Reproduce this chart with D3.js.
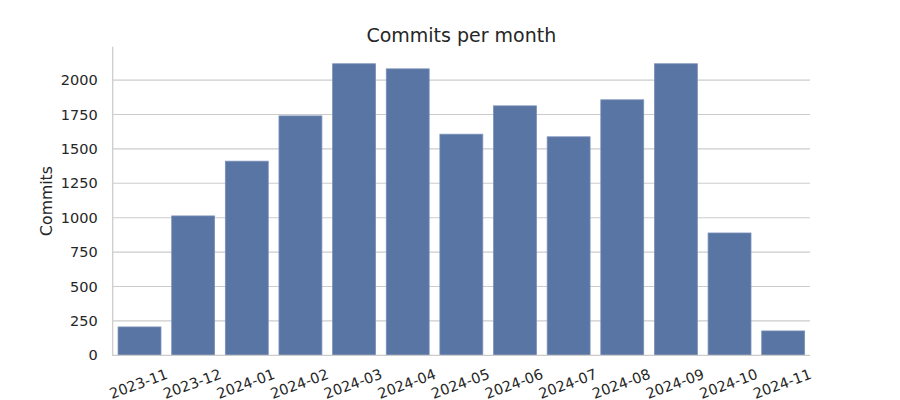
<!DOCTYPE html>
<html>
<head>
<meta charset="utf-8">
<script src="https://cdn.jsdelivr.net/npm/d3@7"></script>
<style>
  html, body { margin: 0; padding: 0; background: #ffffff; }
  svg { display: block; font-family: "DejaVu Sans", sans-serif; }
</style>
</head>
<body>
<svg id="chart" width="900" height="400"></svg>
<script>
const months = ["2023-11","2023-12","2024-01","2024-02","2024-03","2024-04","2024-05","2024-06","2024-07","2024-08","2024-09","2024-10","2024-11"];
const commits = [206, 1013, 1411, 1740, 2119, 2082, 1607, 1813, 1588, 1857, 2119, 889, 177];
const yTicks = [0, 250, 500, 750, 1000, 1250, 1500, 1750, 2000];
const chartTitle = "Commits per month";
const yLabel = "Commits";

(function () {
const svg = d3.select("#chart");
const mLeft = 112.7, mRight = 810, mTop = 46.7, mBottom = 355.3;
const textColor = "#262626";

const x = d3.scaleBand().domain(months).range([mLeft, mRight]).paddingInner(0.2).paddingOuter(0.1);
const y = d3.scaleLinear().domain([0, 2243]).range([mBottom, mTop]);

// grid lines
svg.append("g")
  .selectAll("line")
  .data(yTicks.filter(d => d > 0))
  .join("line")
  .attr("x1", mLeft).attr("x2", mRight)
  .attr("y1", d => y(d)).attr("y2", d => y(d))
  .attr("stroke", "#cccccc").attr("stroke-width", 1.1);

// bars
svg.append("g")
  .selectAll("rect")
  .data(months.map((m, i) => ({m, v: commits[i]})))
  .join("rect")
  .attr("x", d => x(d.m))
  .attr("width", x.bandwidth())
  .attr("y", d => y(d.v))
  .attr("height", d => y(0) - y(d.v))
  .attr("fill", "#5975a4")
  .attr("stroke", "#7a90b8")
  .attr("stroke-width", 0.8);

// spines
svg.append("line").attr("x1", mLeft).attr("x2", mLeft).attr("y1", mTop).attr("y2", mBottom + 0.6)
  .attr("stroke", "#cccccc").attr("stroke-width", 1.25);
svg.append("line").attr("x1", mLeft - 0.6).attr("x2", mRight).attr("y1", mBottom).attr("y2", mBottom)
  .attr("stroke", "#cccccc").attr("stroke-width", 1.25);

// y axis ticks
const yAxis = d3.axisLeft(y).tickValues(yTicks).tickFormat(d3.format("d")).tickSize(0).tickPadding(15);
const gy = svg.append("g").attr("transform", `translate(${mLeft},0)`).call(yAxis);
gy.attr("font-family", null).attr("font-size", null);
gy.select(".domain").remove();
gy.selectAll("text").attr("fill", textColor).style("font-size", "14.5px").style("font-family", "DejaVu Sans");

// x axis labels
const xAxis = d3.axisBottom(x).tickSize(0).tickPadding(0);
const gx = svg.append("g").attr("transform", `translate(0,${mBottom})`).call(xAxis);
gx.attr("font-family", null).attr("font-size", null);
gx.select(".domain").remove();
gx.selectAll("text")
  .attr("fill", textColor)
  .style("font-size", "14.5px").style("font-family", "DejaVu Sans")
  .attr("y", 0).attr("dy", "0.35em")
  .attr("text-anchor", "middle")
  .attr("transform", "translate(-1,28.5) rotate(-20)");

// y label
svg.append("text")
  .attr("transform", `translate(52,${(mTop + mBottom) / 2}) rotate(-90)`)
  .attr("text-anchor", "middle")
  .attr("fill", textColor)
  .style("font-size", "15.7px")
  .text(yLabel);

// title
svg.append("text")
  .attr("x", (mLeft + mRight) / 2)
  .attr("y", 41.5)
  .attr("text-anchor", "middle")
  .attr("fill", textColor)
  .style("font-size", "19px")
  .text(chartTitle);
})();
</script>
</body>
</html>
